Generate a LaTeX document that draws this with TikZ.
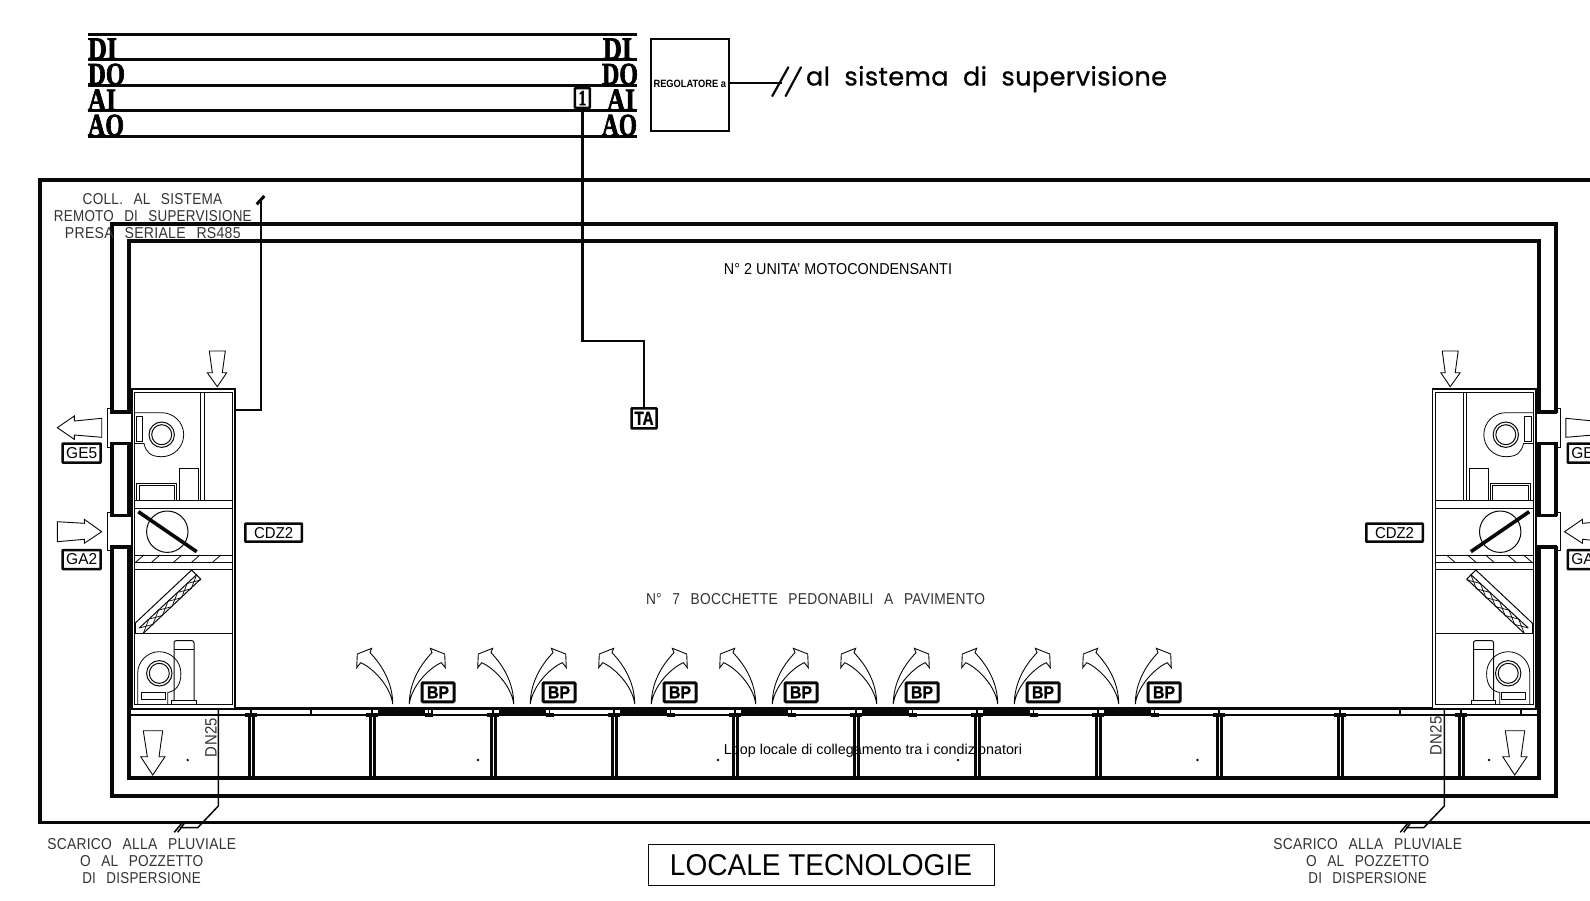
\documentclass[tikz,border=0pt]{standalone}
\usepackage{fontspec}
\usepackage{graphicx}
\setmainfont{Liberation Sans}
\newfontfamily\slab{Liberation Serif Bold}[FakeBold=2.5]
\newfontfamily\iso{Liberation Sans}[LetterSpace=2,WordSpace=2.6]
\newfontfamily\rnd{Poppins}[LetterSpace=1.5,WordSpace=2,FakeBold=0.7]
\newfontfamily\heavy{Liberation Sans Bold}[FakeBold=1.2]
\definecolor{ink}{gray}{0.03}
\definecolor{soft}{gray}{0.2}
\tikzset{
  thickwall/.style={draw=ink,line width=3.8pt,line join=miter},
  thinline/.style={draw=ink,line width=1pt},
  medline/.style={draw=ink,line width=2.2pt},
  busline/.style={draw=ink,line width=2.5pt},
  tagbox/.style={draw=ink,line width=2.5pt,fill=white,rounded corners=0.5pt},
  flowarrow/.style={draw=ink,line width=0.9pt,fill=white,line join=miter},
  lbl/.style={inner sep=0pt,outer sep=0pt,text=soft},
}
\newcommand{\fit}[3]{\resizebox{#1pt}{#2pt}{#3}}
\newcommand{\busfit}[3]{\resizebox{#1pt}{#2pt}{\slab #3}}
\newcommand{\tagtext}[3]{\resizebox{#1pt}{#2pt}{#3}}
% air unit, drawn in the coordinates of the left one
\newcommand{\airunit}{%
  % duct openings through the double wall
  \fill[white] (108,413) rectangle (131,442);
  \fill[white] (108,516) rectangle (131,546);
  \draw[thickwall,line width=3.2pt] (110.2,412) -- (131,412);
  \draw[thickwall,line width=3.2pt] (110.2,443.5) -- (131,443.5);
  \draw[thickwall,line width=3.2pt] (110.2,515.5) -- (131,515.5);
  \draw[thickwall,line width=3.2pt] (110.2,547) -- (131,547);
  \draw[thinline,line width=0.8pt] (112,408) -- (107.3,408) -- (107.3,447) -- (112,447);
  \draw[thinline,line width=0.8pt] (112,512) -- (107.3,512) -- (107.3,550.7) -- (112,550.7);
  % casing
  \fill[white] (131.7,389.3) rectangle (235,708);
  \draw[medline,line width=1.9pt] (131.7,708) -- (131.7,389.3) -- (235,389.3) -- (235,708);
  \draw[thinline,line width=0.9pt] (134.3,704) rectangle (232.3,392.3);
  % upper compartment
  \draw[thinline] (200.7,392.3) -- (200.7,500.7) (204.3,392.3) -- (204.3,500.7);
  \draw[thinline] (134.3,500.7) -- (232.3,500.7) (134.3,508.7) -- (232.3,508.7);
  % upper fan
  \draw[thinline,line width=0.8pt] (134.3,412.7) -- (161.7,412.7) arc[start angle=-90,end angle=90,radius=22] .. controls (150,456.7) and (146,452) .. (144,443.5) -- (134.3,443.5);
  \draw[thinline] (161.7,434.7) circle[radius=12.7] (161.7,434.7) circle[radius=10];
  \draw[thinline] (136,416.3) rectangle (142.7,441.7);
  \draw[thinline] (179,468.3) rectangle (198.3,500.7);
  \draw[thinline,line width=1pt] (136.7,500.7) -- (136.7,483.3) -- (176.7,483.3) -- (176.7,500.7);
  \draw[thinline,line width=0.7pt] (139,500.7) -- (139,485.3) -- (174.7,485.3) -- (174.7,500.7);
  % damper
  \draw[thinline] (167.3,531.7) circle[radius=20.7];
  \draw[draw=ink,line width=3.6pt] (138.3,511.7) -- (196.7,551.7);
  % filter
  \draw[thinline] (134.3,555) -- (232.3,555) (134.3,562.7) -- (232.3,562.7) (134.3,569.3) -- (232.3,569.3);
  \foreach \hx in {135,151,173,191,212} {\draw[thinline,line width=0.8pt] (\hx,562.7) -- (\hx+9,555);}
  % coil
  \draw[thinline] (135,623.3) -- (191.7,570) -- (200.7,579) -- (143.3,633.3);
  \draw[thinline] (135,623.3) -- (135,633.3) -- (143.3,633.3);
  \draw[thinline] (139.3,628) -- (196.7,574.6);
  \foreach \i in {0,...,5} {
    \draw[thinline,line width=0.7pt] (139.3+9.57*\i,628-8.9*\i) -- (152.87+9.57*\i,624.4-8.9*\i) (143.3+9.57*\i,633.3-8.9*\i) -- (148.87+9.57*\i,619.1-8.9*\i);
  }
  \draw[thinline] (134.3,633.3) -- (232.3,633.3);
  % lower fan and motor
  \draw[thinline,line width=0.8pt] (137.7,704) -- (137.7,673.3) arc[start angle=180,end angle=360,radius=21.6] .. controls (181,685) and (176,691) .. (167.7,692.5) -- (167.7,704);
  \draw[thinline] (159.3,673.3) circle[radius=12.7] (159.3,673.3) circle[radius=10];
  \draw[thinline] (141.7,692.7) rectangle (165.7,699.3);
  \draw[thinline] (174,700.7) -- (174,643) [rounded corners=2pt] -- (174,640.7) -- (194,640.7) [sharp corners] -- (194,700.7);
  \draw[thinline,line width=1.4pt] (174,649.3) -- (194,649.3);
  \draw[thinline] (171.7,704.3) -- (171.7,700.7) -- (196,700.7) -- (196,704.3);
  % arrow on top
  \draw[flowarrow] (209.3,351) -- (225.3,351) -- (222.3,372.7) -- (226.7,372.7) -- (217.3,386.7) -- (207.3,372.7) -- (212.3,372.7) -- cycle;
  % outlet arrow
  \draw[flowarrow] (57.3,427.7) -- (74.3,416) -- (74.3,421) -- (101.7,418.3) -- (101.7,437.3) -- (74.3,435) -- (74.3,439.3) -- cycle;
}
\newcommand{\inletarrow}{\draw[flowarrow] (57.3,521.7) -- (84.3,523.3) -- (84.3,519.3) -- (101.7,531.7) -- (84.3,543.3) -- (84.3,539.3) -- (57.3,541.7) -- cycle;}
\newcommand{\dnarrow}[1]{\begin{scope}[xshift=#1pt]\draw[flowarrow] (143.3,730.7) -- (162.7,730.7) -- (159,756.7) -- (165,756.7) -- (152.7,775) -- (140.7,756.7) -- (147.3,756.7) -- cycle;\end{scope}}
\begin{document}
\begin{tikzpicture}[x=1pt,y=-1pt]
\useasboundingbox (0,0) rectangle (1590,900);
\clip (0,0) rectangle (1590,900);
\fill[white] (0,0) rectangle (1590,900);
% frames
\draw[thickwall] (1600,180) -- (40,180) -- (40,822.5) -- (1600,822.5);
\draw[thickwall] (112,796) rectangle (1556,224);
\draw[thickwall] (128.7,778) rectangle (1539,241);
% floor
\draw[medline,line width=2.6pt] (128.7,708.5) -- (1539,708.5);
\draw[thinline,line width=2pt] (128.7,714.7) -- (1539,714.7);
\foreach \k in {0,...,6} {
  \fill[ink] (378+121*\k,707.5) rectangle (425+121*\k,715.5);
  \fill[ink] (425+121*\k,712.5) rectangle (433+121*\k,716.5);
  \fill[ink] (428+121*\k,707.5) rectangle (429+121*\k,715);
}
\foreach \k in {0,...,10} {
  \draw[draw=ink,line width=3pt] (249+121*\k,714) -- (249+121*\k,778);
  \draw[draw=ink,line width=3pt] (253+121*\k,714) -- (253+121*\k,778);
  \fill[ink] (245+121*\k,712.5) rectangle (257+121*\k,716.5);
  \fill[ink] (250.2+121*\k,707.5) rectangle (252+121*\k,716.5);
}
\foreach \k in {0,1,9,10} {\fill[ink] (309.7+121*\k,707.5) rectangle (311.7+121*\k,715.5);}
\foreach \dx in {187.7,478,718,958,1197.5,1489} {\fill[ink] (\dx,760) circle[radius=1.3];}
% air units
\airunit
\inletarrow
\begin{scope}[shift={(1667.5,0)},xscale=-1]
\airunit
\draw[flowarrow] (103,531.7) -- (85,519.3) -- (85,523.3) -- (58,521) -- (58,542) -- (85,539.3) -- (85,543.3) -- cycle;
\end{scope}
\dnarrow{0}
\dnarrow{1362}
% floor grille flow arrows
\foreach \k in {0,...,6} {
  \begin{scope}[shift={(401+121*\k,704)}]
    \draw[flowarrow] (-8.3,0) .. controls (-8.3,-20) and (-18,-38) .. (-31,-51.3) -- (-29.3,-55.7) -- (-43.7,-50) -- (-44.3,-36.3) -- (-40.3,-41.3) .. controls (-28,-36) and (-10.5,-18) .. (-8.3,0) -- cycle;
    \begin{scope}[xscale=-1]
    \draw[flowarrow] (-8.3,0) .. controls (-8.3,-20) and (-18,-38) .. (-31,-51.3) -- (-29.3,-55.7) -- (-43.7,-50) -- (-44.3,-36.3) -- (-40.3,-41.3) .. controls (-28,-36) and (-10.5,-18) .. (-8.3,0) -- cycle;
    \end{scope}
  \end{scope}
  \node[tagbox,line width=3pt,minimum width=32pt,minimum height=19pt,inner sep=0pt,rounded corners=1pt] (bp\k) at (438+121*\k,692.3) {\tagtext{22}{12}{\heavy BP}};
}
% drains
\coordinate (dlA) at (218.3,708);
\coordinate (dlB) at (218.3,806);
\coordinate (dlC) at (197.7,827.7);
\coordinate (dlD) at (180,827.7);
\draw[thinline,line width=1.5pt] (dlA) -- (dlB) -- (dlC) -- (dlD);
\draw[thinline,line width=1.5pt] (174.3,832.3) -- (181.7,823.3) (177.7,832.3) -- (184.3,823.3);
\coordinate (drA) at (1444.3,708);
\coordinate (drB) at (1444.3,806);
\coordinate (drC) at (1423.7,827.7);
\coordinate (drD) at (1406,827.7);
\draw[thinline,line width=1.5pt] (drA) -- (drB) -- (drC) -- (drD);
\draw[thinline,line width=1.5pt] (1400.3,832.3) -- (1407.7,823.3) (1403.7,832.3) -- (1410.3,823.3);
\node[lbl,rotate=90] (dna) at (211,737.5) {\fit{39}{11.5}{\iso DN25}};
\node[lbl,rotate=90] (dnb) at (1436,735.8) {\fit{39}{11.5}{\iso DN25}};
% serial wire
\node[inner sep=0pt,minimum size=0pt] (unitA) at (235,410) {};
\coordinate (wireB) at (260.5,410);
\coordinate (wireC) at (260.5,200);
\draw[medline,line width=2pt] (unitA) -- (wireB) -- (wireC);
\draw[draw=ink,line width=3pt] (256.7,204.3) -- (264.3,196);
% bus
\draw[busline] (88,34.5) -- (637,34.5);
\draw[busline] (88,59.5) -- (637,59.5);
\draw[busline] (88,85.5) -- (637,85.5);
\draw[busline] (88,110.5) -- (637,110.5);
\draw[busline] (88,136.5) -- (637,136.5);
\node[lbl,text=black,anchor=south west] (dil) at (88,59.5) {\busfit{29}{21}{DI}};
\node[lbl,text=black,anchor=south west] (dol) at (88,85) {\busfit{37}{21}{DO}};
\node[lbl,text=black,anchor=south west] (ail) at (88,110.5) {\busfit{28}{21}{AI}};
\node[lbl,text=black,anchor=south west] (aol) at (88,136) {\busfit{36}{21}{AO}};
\node[lbl,text=black,anchor=south east] (dir) at (632,59.5) {\busfit{29}{21}{DI}};
\node[lbl,text=black,anchor=south east] (dor) at (638,85) {\busfit{36}{21}{DO}};
\node[lbl,text=black,anchor=south east] (air) at (635,110.5) {\busfit{28}{21}{AI}};
\node[lbl,text=black,anchor=south east] (aor) at (637,136) {\busfit{35}{21}{AO}};
\node[tagbox,minimum width=15pt,minimum height=19.6pt,inner sep=0pt,fill=white] (one) at (582.4,98) {\tagtext{7.5}{14}{\slab 1}};
% regulator
\node[draw=ink,line width=2pt,minimum width=78pt,minimum height=92pt,inner sep=0pt,anchor=north west,fill=white] (reg) at (649.8,38) {\raisebox{2pt}{\fit{72.5}{7.4}{\textbf{REGOLATORE a}}}};
\coordinate (superv) at (782,83);
\draw[medline] (reg.east |- superv) -- (superv);
\draw[medline,line cap=round] (772.3,96) -- (788.3,67.3);
\draw[medline,line cap=round] (785.7,96) -- (801,67.3);
\node[lbl,text=black,anchor=base west] (suptxt) at (806,85.5) {\resizebox{361pt}{!}{\rnd al sistema di supervisione}};
% temperature sensor
\node[tagbox,minimum width=25pt,minimum height=20pt,inner sep=0pt] (ta) at (644,418.3) {\tagtext{19}{13}{\heavy TA}};
\coordinate (wA) at (582.4,340.7);
\coordinate (wB) at (643.7,340.7);
\draw[medline] (one.south) -- (wA) -- (wB) -- (ta.north -| wB);
% tags
\node[tagbox,minimum width=38pt,minimum height=19pt,inner sep=0pt] (ge) at (81.7,453) {\fit{31}{11}{GE5}};
\node[tagbox,minimum width=38pt,minimum height=19pt,inner sep=0pt] (ga) at (81.7,559.5) {\fit{31}{11}{GA2}};
\node[tagbox,minimum width=38pt,minimum height=19pt,inner sep=0pt,anchor=west] (ger) at (1566.5,453) {\fit{31}{11}{GE5}};
\node[tagbox,minimum width=38pt,minimum height=19pt,inner sep=0pt,anchor=west] (gar) at (1566.5,559.5) {\fit{31}{11}{GA2}};
\node[tagbox,minimum width=56.5pt,minimum height=18pt,inner sep=0pt] (cdl) at (273.7,532.7) {\fit{39}{11}{CDZ2}};
\node[tagbox,minimum width=56.5pt,minimum height=18pt,inner sep=0pt] (cdr) at (1394.5,532.7) {\fit{39}{11}{CDZ2}};
% notes
\node[lbl] (n1) at (152.5,199.3) {\fit{139.6}{11}{\iso COLL. AL SISTEMA}};
\node[lbl] (n2) at (152.8,216) {\fit{197.7}{11}{\iso REMOTO DI SUPERVISIONE}};
\node[lbl] (n3) at (152.8,233) {\fit{175.7}{11}{\iso PRESA SERIALE RS485}};
\node[lbl,text=black] (n4) at (838,269) {\fit{228}{11}{N° 2 UNITA' MOTOCONDENSANTI}};
\node[lbl] (n5) at (815.5,599.5) {\fit{339}{11}{\iso N° 7 BOCCHETTE PEDONABILI A PAVIMENTO}};
\node[lbl,text=black] (n6) at (873,750.5) {\resizebox{298pt}{!}{Loop locale di collegamento tra i condizionatori}};
\foreach \sh/\nm in {0/a,1226/b} {
  \node[lbl] (s1\nm) at (141.7+\sh,843.8) {\fit{188.7}{11}{\iso SCARICO ALLA PLUVIALE}};
  \node[lbl] (s2\nm) at (141.7+\sh,860.8) {\fit{123.3}{11}{\iso O AL POZZETTO}};
  \node[lbl] (s3\nm) at (141.5+\sh,878) {\fit{118.4}{11}{\iso DI DISPERSIONE}};
}
\node[draw=ink,line width=1pt,minimum width=346pt,minimum height=41pt,inner sep=0pt,text=black] (title) at (821,865) {\fit{302}{21}{LOCALE TECNOLOGIE}};
\end{tikzpicture}
\end{document}
